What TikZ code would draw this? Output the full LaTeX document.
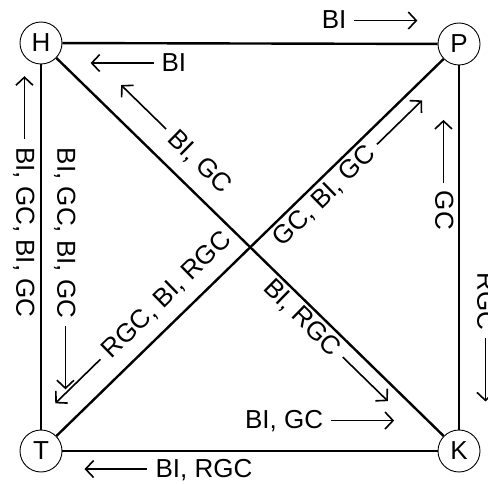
\documentclass[tikz,border=0pt]{standalone}
\usepackage{fontspec}
\setmainfont{Liberation Sans}
\usetikzlibrary{arrows.meta}
\newcommand{\rarr}{\tikz[baseline=-0.31em]\draw[line width=1.6pt,-{Straight Barb[length=8pt,width=17pt]}] (0pt,0pt) -- (63pt,0pt);}
\newcommand{\larr}{\tikz[baseline=-0.31em]\draw[line width=1.6pt,{Straight Barb[length=8pt,width=17pt]}-] (0pt,0pt) -- (63pt,0pt);}

\begin{document}
\begin{tikzpicture}[x=1pt,y=-1pt,font=\fontsize{26}{31}\selectfont,
  state/.style={draw,circle,line width=0.9pt,minimum size=42pt,inner sep=0pt,fill=white},
  link/.style={line width=2.4pt},
  lbl/.style={text height=0.72em,text depth=0pt,inner sep=0pt}]
  \useasboundingbox (0,0) rectangle (488,484);
  \node[state] (H) at (41,43) {H};
  \node[state] (P) at (459,44) {P};
  \node[state] (T) at (41,451) {T};
  \node[state] (K) at (459,451) {K};
  \draw[link] (H) -- (P);
  \draw[link] (H) -- (T);
  \draw[link] (H) -- (K);
  \draw[link] (T) -- (P);
  \draw[link] (P) -- (K);
  \draw[link] (T) -- (K);
  \node[lbl] (hp1) at (370,25) {BI \rarr};
  \node[lbl] (hp2) at (138,67.5) {\larr{} BI};
  \node[lbl,rotate=-90] (ht1) at (20,196.5) {\larr{} BI, GC, BI, GC};
  \node[lbl,rotate=-90] (ht2) at (61,269) {BI, GC, BI, GC \rarr};
  \node[lbl,rotate=-44.3] (hk1) at (171,140) {\larr{} BI, GC};
  \node[lbl,rotate=-44.3] (hk2) at (325,346) {BI, RGC \rarr};
  \node[lbl,rotate=44.3] (tp1) at (144,323) {\larr{} RGC, BI, RGC};
  \node[lbl,rotate=44.3] (tp2) at (353,174) {GC, BI, GC \rarr};
  \node[lbl,rotate=-90] (pk1) at (439,174.5) {\larr{} GC};
  \node[lbl,rotate=-90] (pk2) at (481,337.5) {RGC \rarr};
  \node[lbl] (tk1) at (320,425) {BI, GC \rarr};
  \node[lbl] (tk2) at (168,473.5) {\larr{} BI, RGC};
\end{tikzpicture}
\end{document}
